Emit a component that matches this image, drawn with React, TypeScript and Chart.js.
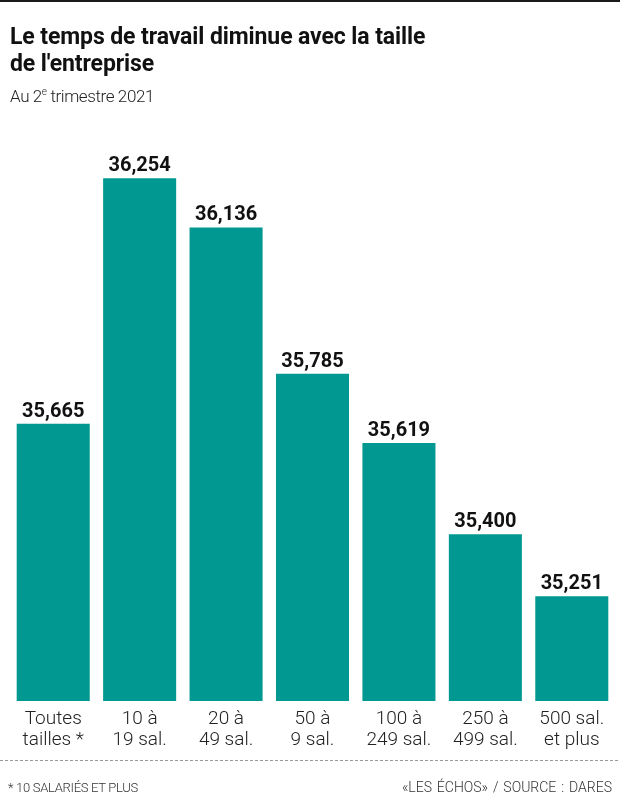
import React, { useEffect, useRef } from "react";
import { Chart, registerables } from "chart.js";
Chart.register(...registerables);

const categories: string[][] = [
  ["Toutes", "tailles *"],
  ["10 à", "19 sal."],
  ["20 à", "49 sal."],
  ["50 à", "9 sal."],
  ["100 à", "249 sal."],
  ["250 à", "499 sal."],
  ["500 sal.", "et plus"],
];
const values: number[] = [35.665, 36.254, 36.136, 35.785, 35.619, 35.4, 35.251];
const yMin = 35;
const yMax = 36.3;

const FONT = "Roboto, 'Noto Sans', sans-serif";
const BAR = "#009890";

const labelsPlugin = {
  id: "labelsPlugin",
  afterDatasetsDraw(chart: any) {
    const ctx = chart.ctx;
    const meta = chart.getDatasetMeta(0);
    const xScale = chart.scales.x;
    const bottom = chart.chartArea.bottom;
    ctx.save();
    ctx.textAlign = "center";
    ctx.textBaseline = "alphabetic";
    meta.data.forEach((bar: any, i: number) => {
      ctx.fillStyle = "#111";
      ctx.font = `bold 20px ${FONT}`;
      ctx.fillText(values[i].toFixed(3).replace(".", ","), bar.x, bar.y - 7);
      const x = xScale.getPixelForValue(i);
      ctx.fillStyle = "#222";
      ctx.font = `300 19px ${FONT}`;
      categories[i].forEach((line, j) => {
        ctx.fillText(line, x, bottom + 23 + j * 21);
      });
    });
    ctx.restore();
  },
};

export default function App() {
  const ref = useRef<HTMLCanvasElement>(null);
  useEffect(() => {
    if (!ref.current) return;
    const chart = new Chart(ref.current, {
      type: "bar",
      data: {
        labels: categories.map((c) => c.join(" ")),
        datasets: [
          {
            data: values,
            backgroundColor: BAR,
            borderWidth: 0,
            categoryPercentage: 1,
            barPercentage: 0.845,
          },
        ],
      },
      options: {
        responsive: false,
        animation: false,
        layout: { padding: { left: 10, right: 5, top: 159, bottom: 100 } },
        plugins: { legend: { display: false }, tooltip: { enabled: false }, title: { display: false } },
        scales: {
          x: { display: false },
          y: { display: false, min: yMin, max: yMax },
        },
      },
      plugins: [labelsPlugin],
    });
    return () => chart.destroy();
  }, []);

  return (
    <div style={{ position: "fixed", left: 0, top: 0, width: 620, height: 801, background: "#fff", fontFamily: FONT }}>
      <canvas ref={ref} width={620} height={801} style={{ position: "absolute", left: 0, top: 0 }} />
      <div style={{ position: "absolute", left: 0, top: 0, width: 620, height: 2, background: "#1a1a1a" }} />
      <div
        style={{
          position: "absolute",
          left: 10,
          top: 23,
          fontSize: 23,
          lineHeight: "27px",
          fontWeight: 700,
          color: "#111",
          letterSpacing: "-0.1px",
          whiteSpace: "nowrap",
        }}
      >
        Le temps de travail diminue avec la taille
        <br />
        de l'entreprise
      </div>
      <div
        style={{
          position: "absolute",
          left: 10,
          top: 86,
          fontSize: 17,
          lineHeight: "20px",
          fontWeight: 300,
          color: "#222",
          letterSpacing: "-0.4px",
          whiteSpace: "nowrap",
        }}
      >
        Au 2<sup style={{ fontSize: 10, verticalAlign: "7px", lineHeight: 0 }}>e</sup> trimestre 2021
      </div>
      <div
        style={{
          position: "absolute",
          left: 0,
          top: 760,
          width: 618,
          height: 1,
          background: "repeating-linear-gradient(to right, #999 0 3px, transparent 3px 5px)",
        }}
      />
      <div
        style={{
          position: "absolute",
          left: 8,
          top: 780,
          fontSize: 13,
          lineHeight: "16px",
          fontWeight: 300,
          color: "#333",
          letterSpacing: "-0.3px",
          whiteSpace: "nowrap",
        }}
      >
        * 10 SALARIÉS ET PLUS
      </div>
      <div
        style={{
          position: "absolute",
          right: 8,
          top: 779,
          fontSize: 14,
          lineHeight: "16px",
          fontWeight: 300,
          color: "#333",
          wordSpacing: "1.5px",
          whiteSpace: "nowrap",
        }}
      >
        «LES ÉCHOS» / SOURCE : DARES
      </div>
    </div>
  );
}
